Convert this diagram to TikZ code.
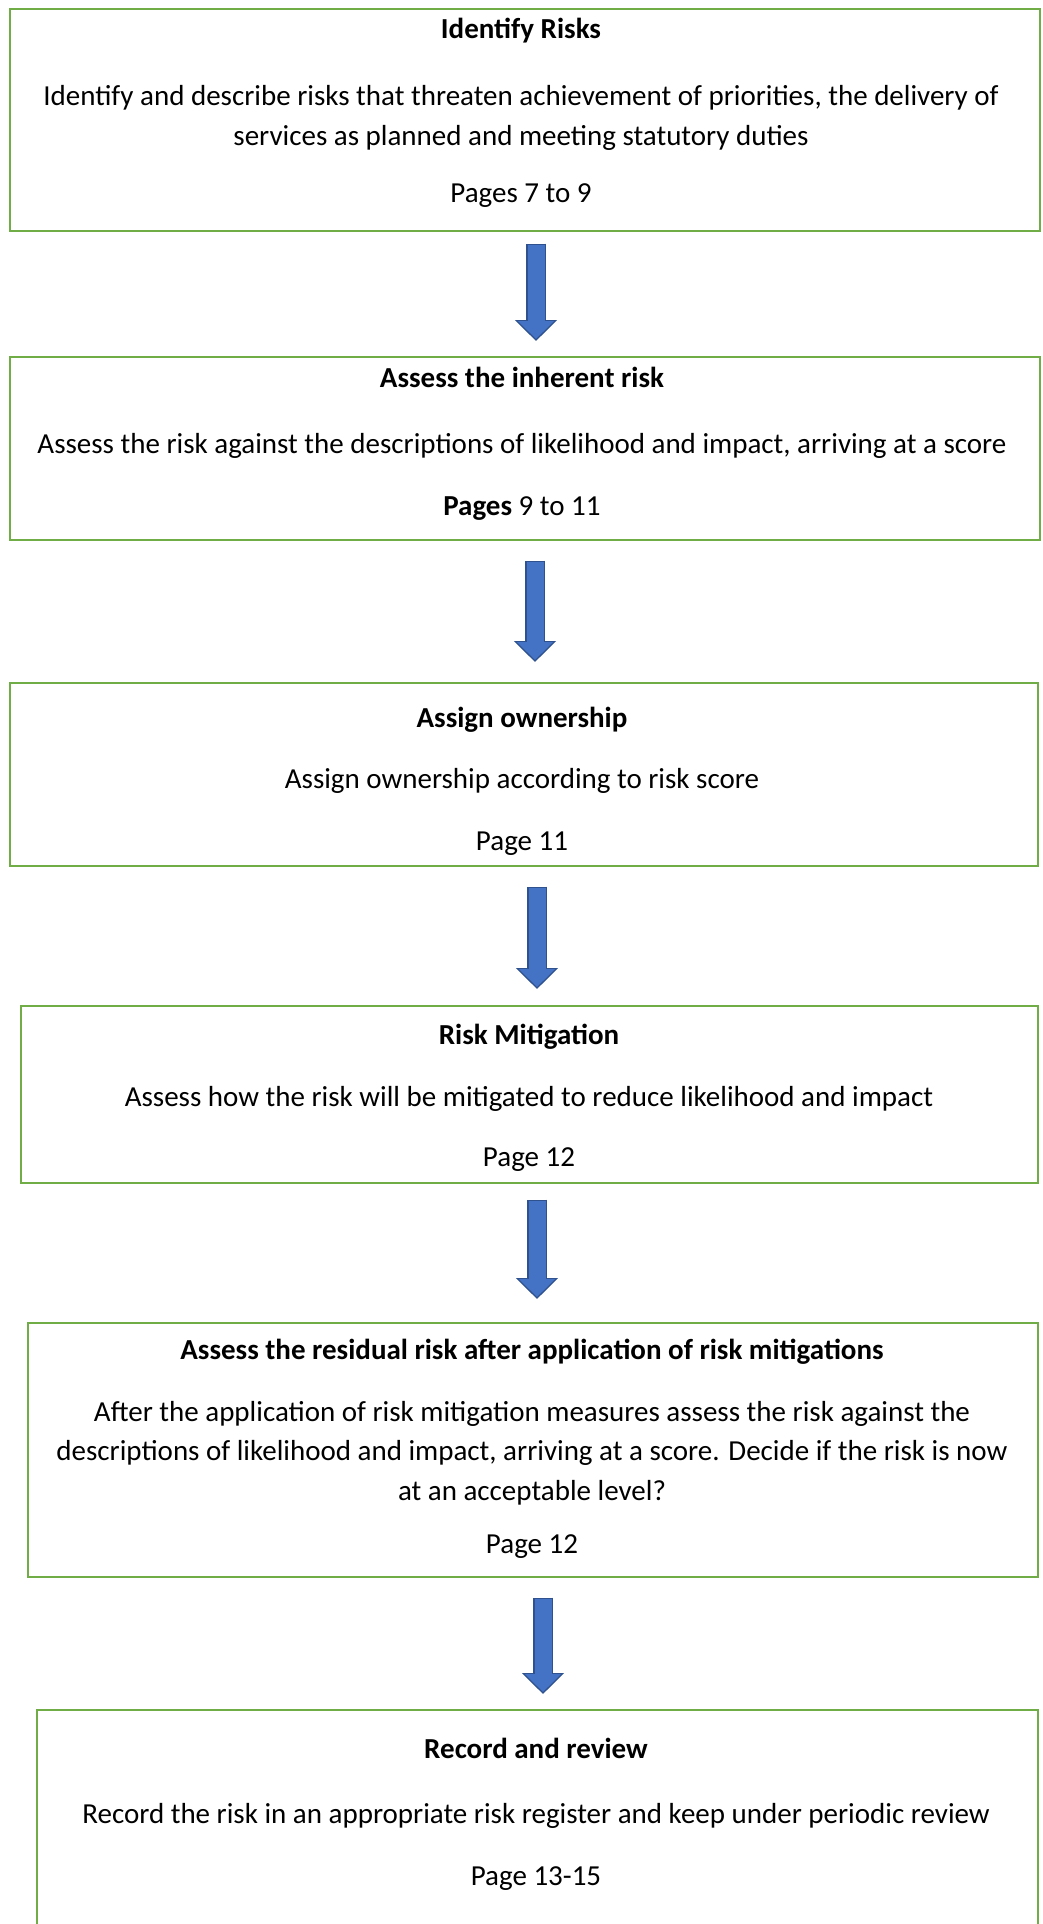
\documentclass[tikz,border=0pt]{standalone}
\usepackage{fontspec}
\setmainfont{Carlito}
\usepackage{xcolor}
\usepackage{tikz}
\usetikzlibrary{arrows.meta,positioning}

\definecolor{stepgreen}{HTML}{70AD47}
\definecolor{flowfill}{HTML}{4472C4}
\definecolor{flowline}{HTML}{2F528F}

\begin{document}
\begin{tikzpicture}[x=0.5pt, y=-0.5pt]
    \tikzstyle{frame} = [rectangle, draw=stepgreen, line width=1.2pt, inner sep=0pt]
    \tikzstyle{steptext} = [align=center, inner sep=0pt,
        font=\fontsize{14.5pt}{19.8pt}\selectfont]
    \tikzstyle{flow} = [draw=flowfill, line width=8.5pt,
        -{Triangle[width=17.5pt, length=9pt]},
        preaction={draw=flowline, line width=10pt,
            -{Triangle[width=20.5pt, length=10.5pt]},
            shorten >=-1pt, shorten <=-0.75pt}]
    \useasboundingbox (0,0) rectangle (1043,1924);

    % boxes
    \node (b1) [frame, minimum width=515pt, minimum height=111pt] at (525,120) {};
    \node (b2) [frame, minimum width=515pt, minimum height=91.5pt] at (525,448.5) {};
    \node (b3) [frame, minimum width=514pt, minimum height=91.5pt] at (524,774.5) {};
    \node (b4) [frame, minimum width=508.5pt, minimum height=88.5pt] at (529.5,1094.5) {};
    \node (b5) [frame, minimum width=505pt, minimum height=127pt] at (533,1450) {};
    \node (b6) [frame, minimum width=500.5pt, minimum height=120pt] at (537.5,1830) {};

    % texts
    \node (t1) [steptext] at (521,113) {\textbf{Identify Risks}\\[13.5pt]
        Identify and describe risks that threaten achievement of priorities, the delivery of\\
        services as planned and meeting statutory duties\\[9pt]
        Pages 7 to 9};
    \node (t2) [steptext] at (522,443.5) {\textbf{Assess the inherent risk}\\[13.5pt]
        Assess the risk against the descriptions of likelihood and impact, arriving at a score\\[11pt]
        \textbf{Pages} 9 to 11};
    \node (t3) [steptext] at (522,781) {\textbf{Assign ownership}\\[11pt]
        Assign ownership according to risk score\\[11pt]
        Page 11};
    \node (t4) [steptext] at (529,1098) {\textbf{Risk Mitigation}\\[11pt]
        Assess how the risk will be mitigated to reduce likelihood and impact\\[10.5pt]
        Page 12};
    \node (t5) [steptext] at (532,1449) {\textbf{Assess the residual risk after application of risk mitigations}\\[11pt]
        After the application of risk mitigation measures assess the risk against the\\
        descriptions of likelihood and impact, arriving at a score. Decide if the risk is now\\
        at an acceptable level?\\[7pt]
        Page 12};
    \node (t6) [steptext] at (536,1814.5) {\textbf{Record and review}\\[12.5pt]
        Record the risk in an appropriate risk register and keep under periodic review\\[11.5pt]
        Page 13-15};

    % arrows
    \coordinate (a1s) at (536,245);  \coordinate (a1e) at (536,339);
    \coordinate (a2s) at (535,562);  \coordinate (a2e) at (535,660);
    \coordinate (a3s) at (537,888);  \coordinate (a3e) at (537,987);
    \coordinate (a4s) at (537,1201); \coordinate (a4e) at (537,1297);
    \coordinate (a5s) at (543,1599); \coordinate (a5e) at (543,1692);
    \draw [flow] (a1s) -- (a1e);
    \draw [flow] (a2s) -- (a2e);
    \draw [flow] (a3s) -- (a3e);
    \draw [flow] (a4s) -- (a4e);
    \draw [flow] (a5s) -- (a5e);
\end{tikzpicture}
\end{document}
